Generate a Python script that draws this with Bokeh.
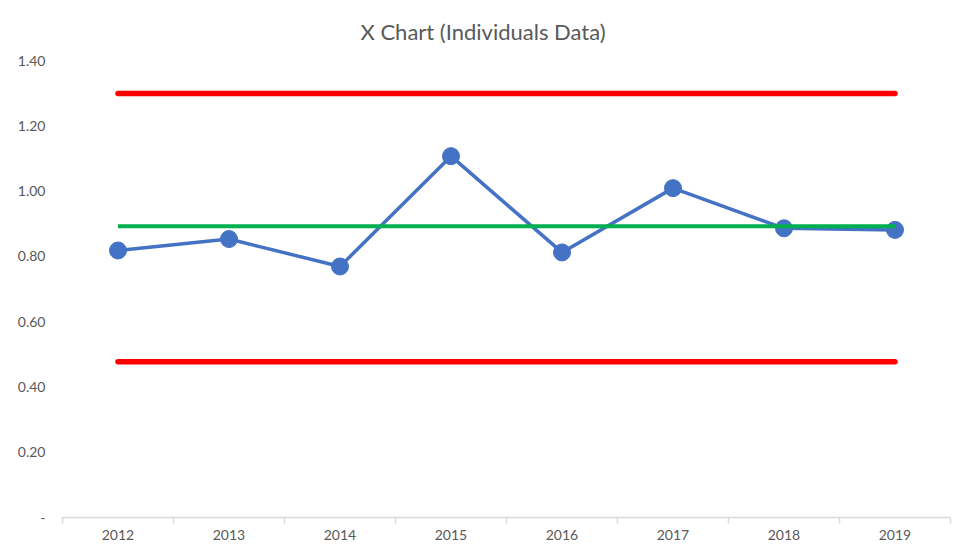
from bokeh.plotting import figure
from bokeh.models import Range1d, FixedTicker, NumeralTickFormatter
from bokeh.embed import file_html
from bokeh.resources import INLINE

title_text = "X Chart (Individuals Data)"
years = ["2012", "2013", "2014", "2015", "2016", "2017", "2018", "2019"]
values = [0.818, 0.853, 0.769, 1.107, 0.812, 1.009, 0.886, 0.881]
mean_line = 0.892
ucl = 1.299
lcl = 0.477
y_ticks = [0.0, 0.2, 0.4, 0.6, 0.8, 1.0, 1.2, 1.4]

xs = list(range(len(years)))
ends = [xs[0], xs[-1]]

p = figure(width=958, height=552, output_backend="svg", toolbar_location=None,
           x_range=Range1d(-0.5, len(years) - 0.5), y_range=Range1d(0, 1.4),
           min_border_left=62, min_border_right=8, min_border_top=60, min_border_bottom=35,
           title=title_text)
p.outline_line_color = None
p.xgrid.grid_line_color = None
p.ygrid.grid_line_color = None

p.title.align = "left"
p.title.offset = 298
p.title.text_font = "Lato"
p.title.text_font_size = "22px"
p.title.text_font_style = "normal"
p.title.text_color = "#595959"
p.title.vertical_align = "top"
p.title.standoff = 28

# limits
p.line(ends, [ucl, ucl], line_color="#ff0000", line_width=5.5, line_cap="round")
p.line(ends, [lcl, lcl], line_color="#ff0000", line_width=5.5, line_cap="round")
# data
p.line(xs, values, line_color="#4472c4", line_width=3.5)
p.scatter(xs, values, size=17, fill_color="#4472c4", line_color="#4472c4")
# centre line
p.line(ends, [mean_line, mean_line], line_color="#00b050", line_width=4)

# y axis
p.yaxis.ticker = FixedTicker(ticks=y_ticks)
p.yaxis.formatter = NumeralTickFormatter(format="0.00")
p.yaxis.major_label_overrides = {0: "-"}
p.yaxis.axis_line_color = None
p.yaxis.major_tick_line_color = None
p.yaxis.major_tick_out = 0
p.yaxis.major_tick_in = 0
p.yaxis.minor_tick_line_color = None
p.yaxis.minor_tick_out = 0
p.yaxis.major_label_standoff = 17
p.yaxis.major_label_text_font = "Lato"
p.yaxis.major_label_text_font_size = "14px"
p.yaxis.major_label_text_color = "#595959"

# x axis
bounds = [i - 0.5 for i in range(len(years) + 1)]
p.xaxis.ticker = FixedTicker(ticks=xs, minor_ticks=bounds)
p.xaxis.major_label_overrides = {i: y for i, y in zip(xs, years)}
p.xaxis.axis_line_color = "#d9d9d9"
p.xaxis.axis_line_width = 1.5
p.xaxis.major_tick_line_color = None
p.xaxis.major_tick_out = 0
p.xaxis.major_tick_in = 0
p.xaxis.minor_tick_line_color = "#d9d9d9"
p.xaxis.minor_tick_line_width = 1.5
p.xaxis.minor_tick_out = 6
p.xaxis.minor_tick_in = 0
p.xaxis.major_label_standoff = 6
p.xaxis.major_label_text_font = "Lato"
p.xaxis.major_label_text_font_size = "14px"
p.xaxis.major_label_text_color = "#595959"

open("out.html", "w").write(file_html(p, INLINE))
